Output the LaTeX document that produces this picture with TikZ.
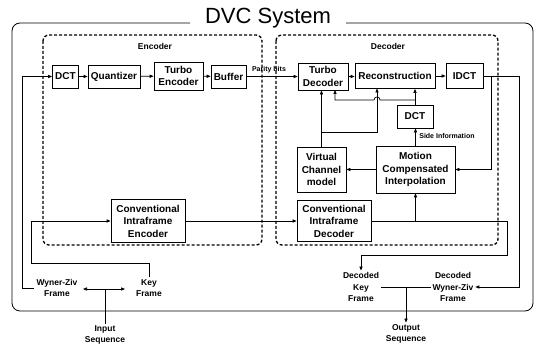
\documentclass[tikz,border=0pt]{standalone}
\usepackage{fontspec}
\setmainfont{Liberation Sans}
\usetikzlibrary{arrows.meta}
\begin{document}
\begin{tikzpicture}[x=1pt,y=-1pt,
  line width=0.7pt,
  arr/.style={-{Triangle[length=4pt,width=3.2pt]}},
  blk/.style={draw,line width=0.8pt,inner sep=0pt,align=center,font=\bfseries\fontsize{10}{12.5}\selectfont},
  lbl/.style={inner sep=1.5pt,align=center,font=\bfseries\fontsize{8.5}{11.5}\selectfont},
  tiny/.style={inner sep=1pt,font=\bfseries\fontsize{7}{8}\selectfont},
  dbox/.style={draw,dashed,line width=1.3pt,dash pattern=on 3pt off 2pt,rounded corners=6pt}]
\useasboundingbox (0,0) rectangle (536,344);
% outer system box
\draw[line width=0.8pt,rounded corners=8pt] (190,23) -- (12,23) -- (12,311) -- (533,311) -- (533,23) -- (346,23);
\node[font=\fontsize{22}{24}\selectfont,inner sep=0pt] (title) at (268,18) {DVC System};
% encoder / decoder frames
\draw[dbox] (43,35) rectangle (262,245);
\draw[dbox] (276,35) rectangle (498,245);
\node[lbl] (enclbl) at (155,46) {Encoder};
\node[lbl] (declbl) at (388,46) {Decoder};
% encoder blocks
\node[blk,minimum width=26pt,minimum height=23pt] (dct1) at (65.5,76.5) {DCT};
\node[blk,minimum width=52pt,minimum height=23pt] (quant) at (114,76.5) {Quantizer};
\node[blk,minimum width=49pt,minimum height=28pt] (tenc) at (178.5,76) {Turbo\\Encoder};
\node[blk,minimum width=35pt,minimum height=23pt] (buf) at (228.5,76.5) {Buffer};
\node[blk,minimum width=74pt,minimum height=43pt] (cie) at (148,221) {Conventional\\Intraframe\\Encoder};
% decoder blocks
\node[blk,minimum width=50pt,minimum height=27pt] (tdec) at (323,76.5) {Turbo\\Decoder};
\node[blk,minimum width=80pt,minimum height=25pt] (recon) at (395,76) {Reconstruction};
\node[blk,minimum width=37pt,minimum height=25pt] (idct) at (464.5,76) {IDCT};
\node[blk,minimum width=36pt,minimum height=23pt] (dct2) at (415,116.5) {DCT};
\node[blk,minimum width=49pt,minimum height=45pt] (vcm) at (321.5,169.5) {Virtual\\Channel\\model};
\node[blk,minimum width=79pt,minimum height=47pt] (mci) at (415.5,169.5) {Motion\\Compensated\\Interpolation};
\node[blk,minimum width=74pt,minimum height=41pt] (cid) at (334,221) {Conventional\\Intraframe\\Decoder};
% labels
\node[lbl] (wz) at (57,288) {Wyner-Ziv\\Frame};
\node[lbl] (kf) at (149,288) {Key\\Frame};
\node[lbl] (inseq) at (105,335) {Input\\Sequence};
\node[lbl] (dkf) at (361,287) {Decoded\\Key\\Frame};
\node[lbl] (dwz) at (453,287) {Decoded\\Wyner-Ziv\\Frame};
\node[lbl] (outseq) at (406,334) {Output\\Sequence};
\node[tiny,anchor=south] (pb) at (269,74) {Parity bits};
\node[tiny,anchor=west] (si) at (418,136) {Side Information};
% input side
\coordinate (ia) at (105,289);
\coordinate (ial) at (83,289);
\coordinate (iar) at (125,289);
\draw (inseq.north) -- (ia);
\draw[arr] (ia) -- (ial);
\draw[arr] (ia) -- (iar);
\draw[arr] ([xshift=-1pt]wz.west) -- (22,288) |- (dct1.west);
\draw[arr] (kf.north) -- (149,263) -- (31,263) |- (cie.west);
% encoder chain
\draw[arr] (dct1) -- (quant);
\draw[arr] (quant) -- (tenc);
\draw[arr] (tenc) -- (buf);
\draw[arr] (buf.east) -- (buf.east -| tdec.west);
\draw[arr] (cie.east) -- (cie.east -| cid.west);
% decoder chain
\draw[arr] (tdec.east) -- (tdec.east -| recon.west);
\draw[arr] (recon) -- (idct);
\draw[arr] (idct.east) -- (519,76) |- (dwz.east);
\draw[arr] (491,76) |- (mci.east);
\draw[arr] (mci.west) -- (mci.west -| vcm.east);
\draw[arr] (mci.north) -- (mci.north |- dct2.south);
\draw[arr] (dct2.north) -- (dct2.north |- recon.south);
\draw[arr] (415,100) -- (380,100) .. controls (380,96) and (374,96) .. (374,100) -- (335,100) -- (335,90);
\draw[arr] (vcm.north) -- (vcm.north |- tdec.south);
\draw[arr] (321.5,132) -- (377,132) -- (377,88.5);
\draw[arr] (cid.east) -- (507,221) |- (361,255) -- (dkf.north);
\draw[arr] (cid.east -| mci.south) -- (mci.south);
% output side
\draw (dkf.east) -- (dkf.east -| dwz.west);
\draw[arr] (406,287) -- (outseq.north);
\end{tikzpicture}
\end{document}
